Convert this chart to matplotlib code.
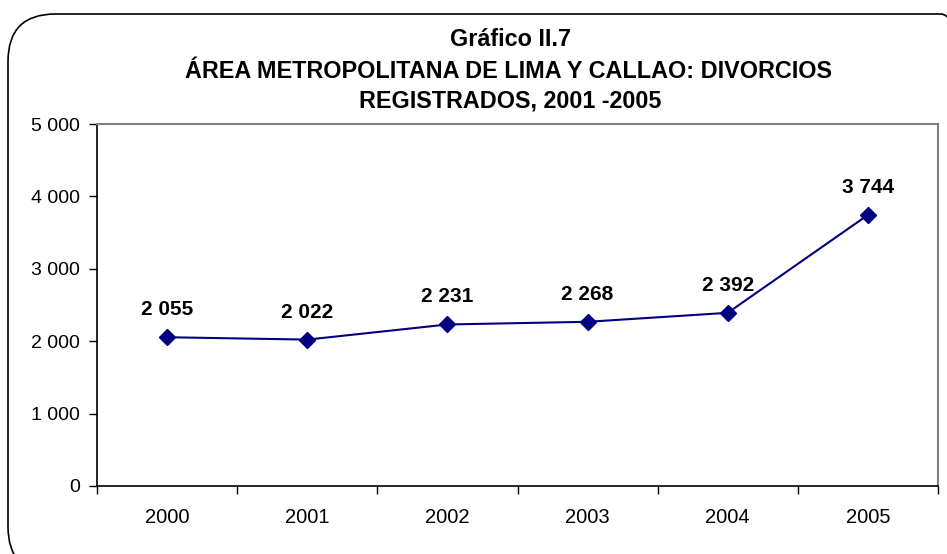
import matplotlib
matplotlib.use('Agg')
import matplotlib.pyplot as plt
from matplotlib.patches import FancyBboxPatch

# datos
years = ['2000', '2001', '2002', '2003', '2004', '2005']
divorcios = [2055, 2022, 2231, 2268, 2392, 3744]
y_ticks = [0, 1000, 2000, 3000, 4000, 5000]

plt.rcParams['font.family'] = ['Liberation Sans', 'DejaVu Sans']

W, H = 947, 554
fig = plt.figure(figsize=(W / 100, H / 100), dpi=100)

# marco redondeado exterior
frame = FancyBboxPatch((8 / W, -20 / H), 980 / W, (H - 14 + 20) / H,
                       boxstyle='round,pad=0,rounding_size=0.05',
                       transform=fig.transFigure, fill=False,
                       edgecolor='black', linewidth=1.2,
                       mutation_aspect=W / H)
fig.patches.append(frame)

ax = fig.add_axes([97 / W, (H - 486) / H, (938 - 97) / W, (486 - 124) / H])
x = list(range(len(years)))
ax.plot(x, divorcios, color='#000080', linewidth=1.5, marker='D',
        markersize=8.5, markerfacecolor='#000080', markeredgecolor='#000080')

for xi, v in zip(x, divorcios):
    ax.annotate(f'{v:,}'.replace(',', ' '), (xi, v), xytext=(0, 13),
                textcoords='offset points', ha='center', va='bottom',
                fontsize=15, fontweight='bold')

ax.set_xlim(-0.5, len(years) - 0.5)
ax.set_ylim(0, 5000)
ax.set_yticks(y_ticks)
ax.set_yticklabels([f'{t:,}'.replace(',', ' ') for t in y_ticks], fontsize=14)
ax.set_xticks(x)
ax.set_xticklabels(years, fontsize=14.5)
ax.set_xticks([i - 0.5 for i in range(len(years) + 1)], minor=True)
ax.tick_params(axis='x', which='major', length=0, pad=16)
ax.tick_params(axis='x', which='minor', length=6, direction='out', width=1)
ax.tick_params(axis='y', length=6, direction='out', width=1, pad=6)

for s in ['top', 'right']:
    ax.spines[s].set_color('#808080')
    ax.spines[s].set_linewidth(1.5)
for s in ['left', 'bottom']:
    ax.spines[s].set_color('black')
    ax.spines[s].set_linewidth(1.2)

title_kw = dict(ha='center', va='center', fontsize=16.8, fontweight='bold')
fig.text(510 / W, 1 - 40 / H, 'Gráfico II.7', **title_kw)
fig.text(508 / W, 1 - 71 / H, 'ÁREA METROPOLITANA DE LIMA Y CALLAO: DIVORCIOS', **title_kw)
fig.text(510 / W, 1 - 101 / H, 'REGISTRADOS, 2001 -2005', **title_kw)

fig.savefig('out.png', dpi=100)
